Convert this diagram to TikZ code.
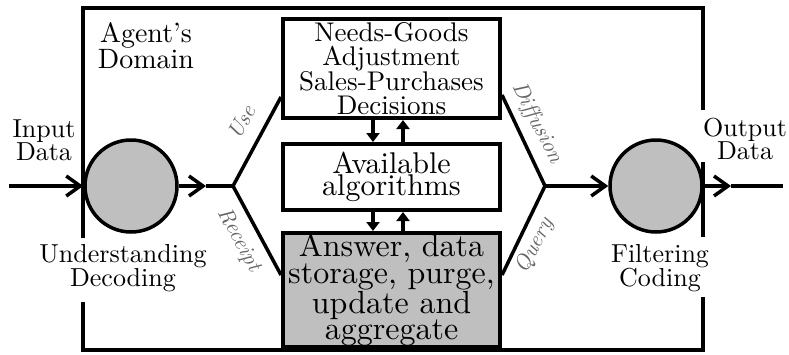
\documentclass[tikz,border=0pt]{standalone}
\usepackage{fontspec}
\setmainfont{lmroman10-regular.otf}[ItalicFont=lmroman10-italic.otf,BoldFont=lmroman10-bold.otf]
\usetikzlibrary{arrows.meta,calc}
\begin{document}
\begin{tikzpicture}[x=1pt,y=-1pt,
  frame/.style={line width=3.5pt},
  box/.style={draw,line width=4pt,minimum width=217pt,inner sep=0pt,align=center},
  disc/.style={circle,draw,line width=3.5pt,fill=black!25,minimum size=92pt,inner sep=0pt},
  flow/.style={line width=3.5pt,-{Straight Barb[length=14pt,width=20pt]}},
  plain/.style={line width=3.5pt},
  vert/.style={line width=4pt,-{Triangle[length=9pt,width=13pt]}},
  lbl/.style={align=center,font=\fontsize{26}{23}\selectfont},
  side/.style={font=\itshape\fontsize{22}{22}\selectfont,text=black!60,inner sep=0pt}
]
\useasboundingbox (0,0) rectangle (789,354);
% frame of the agent's domain
\draw[frame] (83,238) -- (83,8) -- (703,8) -- (703,110);
\draw[frame] (83,302) -- (83,350) -- (703,350) -- (703,297);
\draw[frame] (703,162) -- (703,237);
% discs
\node[disc] (c1) at (131,186) {};
\node[disc] (c2) at (656,186) {};
% boxes
\node[box,minimum height=99pt,font=\fontsize{27}{23.5}\selectfont] (top) at (391.5,68.5)
  {Needs-Goods\\Adjustment\\Sales-Purchases\\Decisions};
\node[box,minimum height=66pt,font=\fontsize{30}{21.5}\selectfont] (mid) at (391.5,177)
  {Available\\algorithms};
\node[box,minimum height=114pt,fill=black!25,font=\fontsize{32}{25}\selectfont] (bot) at (391.5,290)
  {Answer, data\\storage, purge,\\update and\\aggregate};
% coordinates
\coordinate (in) at (9,186);
\coordinate (a1) at (206,186);
\coordinate (jl) at (233,186);
\coordinate (jr) at (545,186);
\coordinate (a2) at (731,186);
\coordinate (out) at (783,186);
% connectors
\draw[flow] (in) -- (c1.west);
\draw[flow] (c1.east) -- (a1);
\draw[plain] (a1) -- (jl);
\draw[plain] ($(top.south west)+(0,-23)$) -- (jl) -- ($(bot.west)+(0,-15)$);
\draw[plain] ($(top.south east)+(0,-25)$) -- (jr) -- ($(bot.east)+(0,-15)$);
\draw[flow] (jr) -- (c2.west);
\draw[flow] (c2.east) -- (a2);
\draw[plain] (a2) -- (out);
% vertical arrows
\draw[vert] ($(top.south)+(-18.5,0)$) -- ($(mid.north)+(-18.5,0)$);
\draw[vert] ($(mid.north)+(11.5,0)$) -- ($(top.south)+(11.5,0)$);
\draw[vert] ($(mid.south)+(-18.5,0)$) -- ($(bot.north)+(-18.5,0)$);
\draw[vert] ($(bot.north)+(11.5,0)$) -- ($(mid.south)+(11.5,0)$);
% labels
\node[lbl,font=\fontsize{28}{24}\selectfont] (agent) at (146,46) {Agent's\\Domain};
\node[lbl] (inp) at (44,140) {Input\\Data};
\node[lbl] (outp) at (745,139) {Output\\Data};
\node[lbl] (und) at (123,268) {Understanding\\Decoding};
\node[lbl] (fil) at (660,268) {Filtering\\Coding};
\node[side,rotate=60.4] (use) at (242,122) {Use};
\node[side,rotate=-61.5] (rec) at (239,240) {Receipt};
\node[side,rotate=-63.4] (dif) at (537,123) {Diffusion};
\node[side,rotate=63.4] (qry) at (535,246) {Query};
\end{tikzpicture}
\end{document}
